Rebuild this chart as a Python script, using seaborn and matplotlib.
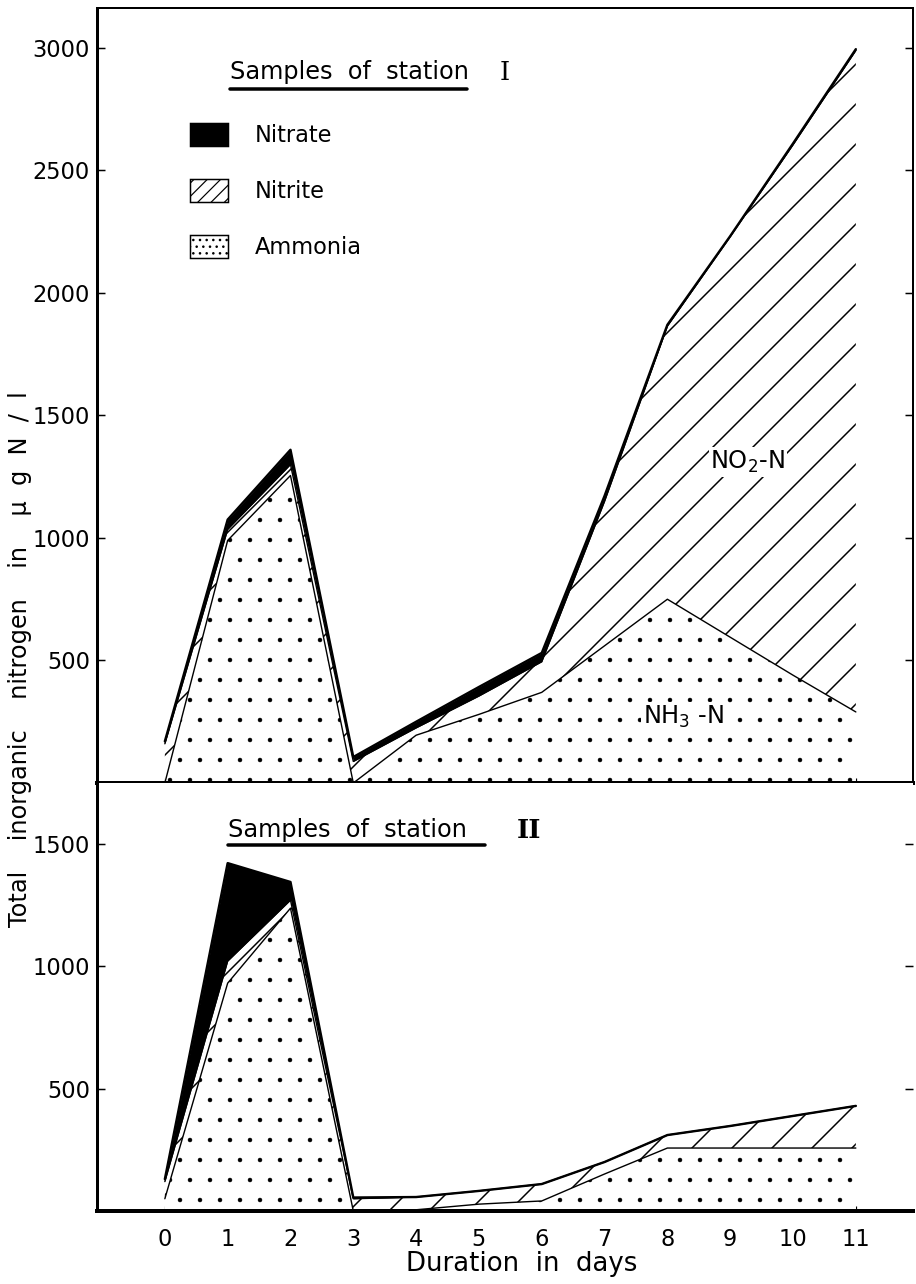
import matplotlib
matplotlib.use("Agg")
import matplotlib.pyplot as plt
from matplotlib.patches import Patch
import seaborn as sns

# values (cumulative, ug N/l)
days = [0, 1, 2, 3, 4, 5, 6, 7, 8, 9, 10, 11]

st1_ammonia = [0, 990, 1255, 0, 195, 280, 370, 560, 750, 595, 440, 290]
st1_nitrite = [160, 1035, 1300, 88, 225, 355, 495, 1150, 1865, 2230, 2605, 2990]
st1_total = [170, 1075, 1360, 106, 250, 392, 531, 1172, 1870, 2232, 2610, 2995]

st2_ammonia = [50, 930, 1236, 0, 5, 28, 41, 151, 257, 257, 257, 257]
st2_nitrite = [120, 1020, 1269, 50, 57, 82, 110, 200, 310, 347, 388, 429]
st2_total = [130, 1420, 1343, 55, 57, 82, 110, 200, 310, 347, 388, 429]

st1_yticks = [500, 1000, 1500, 2000, 2500, 3000]
st2_yticks = [500, 1000, 1500]

DPI = 120
PX = 72 / DPI  # points per pixel

sns.set_theme(style="ticks")
plt.rcParams["font.family"] = ["DejaVu Sans"]
plt.rcParams["text.color"] = "black"
plt.rcParams["hatch.color"] = "black"


def hatched_fill(ax, low, high, hatch, hatch_lw):
    plt.rcParams["hatch.linewidth"] = hatch_lw
    coll = ax.fill_between(days, low, high, facecolor="white", edgecolor="black",
                           hatch=hatch, linewidth=0)
    if hasattr(coll, "set_hatch_linewidth"):
        coll.set_hatch_linewidth(hatch_lw)
    return coll


def draw_station(ax, ammonia, nitrite, total):
    # stacked layers: ammonia dotted, nitrite hatched, nitrate solid black
    hatched_fill(ax, 0, ammonia, ".", 0.4 * PX)
    hatched_fill(ax, ammonia, nitrite, "/", 1.5 * PX)
    ax.fill_between(days, nitrite, total, facecolor="black", edgecolor="black",
                    linewidth=0)
    sns.lineplot(x=days, y=ammonia, ax=ax, color="black", linewidth=1.4 * PX)
    sns.lineplot(x=days, y=nitrite, ax=ax, color="black", linewidth=1.4 * PX)
    sns.lineplot(x=days, y=total, ax=ax, color="black", linewidth=2.4 * PX)


fig = plt.figure(figsize=(916 / DPI, 1284 / DPI), dpi=DPI)
ax1 = fig.add_axes([97 / 916, 1 - 783 / 1284, 816 / 916, 775 / 1284])
ax2 = fig.add_axes([97 / 916, 1 - 1211 / 1284, 816 / 916, 428 / 1284], sharex=ax1)

draw_station(ax1, st1_ammonia, st1_nitrite, st1_total)
draw_station(ax2, st2_ammonia, st2_nitrite, st2_total)

ax1.set_xlim(-1.08, 11.91)
ax1.set_ylim(0, 3163)
ax2.set_ylim(0, 1747)
ax1.set_xticks(days)
ax1.set_yticks(st1_yticks)
ax2.set_yticks(st2_yticks)
ax2.set_xticklabels([str(d) for d in days])

for ax in (ax1, ax2):
    ax.set_xlabel("")
    ax.set_ylabel("")
    ax.tick_params(axis="y", direction="in", left=True, right=True, labelright=False,
                   length=8 * PX, width=1.5 * PX, labelsize=22.5 * PX, pad=7 * PX,
                   colors="black")
    ax.tick_params(axis="x", direction="in", length=5 * PX, width=1.2 * PX,
                   labelsize=22.5 * PX, pad=17 * PX, colors="black")
    ax.spines["left"].set_linewidth(3 * PX)
    ax.spines["bottom"].set_linewidth(4 * PX)
    for s in ax.spines.values():
        s.set_color("black")
ax1.tick_params(axis="x", labelbottom=False)
ax1.spines["top"].set_linewidth(2 * PX)
ax1.spines["right"].set_linewidth(2 * PX)
ax2.spines["top"].set_visible(False)
ax2.spines["right"].set_visible(False)

# panel headings
ax1.text(0.163, 0.917, "Samples  of  station", transform=ax1.transAxes,
         fontsize=24 * PX, va="center")
ax1.plot([0.163, 0.453], [0.896, 0.896], transform=ax1.transAxes,
         color="black", linewidth=3.5 * PX, clip_on=False)
ax1.text(0.494, 0.917, "I", transform=ax1.transAxes, family="DejaVu Serif",
         fontsize=26 * PX, va="center")

ax2.text(0.161, 0.89, "Samples  of  station", transform=ax2.transAxes,
         fontsize=24 * PX, va="center")
ax2.plot([0.161, 0.475], [0.855, 0.855], transform=ax2.transAxes,
         color="black", linewidth=3.5 * PX, clip_on=False)
ax2.text(0.515, 0.89, "II", transform=ax2.transAxes, family="DejaVu Serif",
         fontsize=26 * PX, fontweight="bold", va="center")

# legend
plt.rcParams["hatch.linewidth"] = 1.2 * PX
handles = [
    Patch(facecolor="black", edgecolor="black", linewidth=1.5 * PX),
    Patch(facecolor="white", edgecolor="black", hatch="///", linewidth=1.5 * PX),
    Patch(facecolor="white", edgecolor="black", hatch="...", linewidth=1.5 * PX),
]
ax1.legend(handles, ["Nitrate", "Nitrite", "Ammonia"], loc="upper left",
           bbox_to_anchor=(0.114, 0.852), frameon=False, borderpad=0,
           borderaxespad=0, fontsize=22.5 * PX, handlelength=1.69,
           handleheight=1.2, handletextpad=1.2, labelspacing=1.42)

# layer labels
ax1.text(9.28, 1310, "NO$_2$-N", fontsize=24 * PX, ha="center", va="center",
         bbox=dict(facecolor="white", edgecolor="none", pad=1))
ax1.text(8.25, 269, "NH$_3$ -N", fontsize=24 * PX, ha="center", va="center",
         bbox=dict(facecolor="white", edgecolor="none", pad=1))

fig.text(0.022, 0.487, "Total    inorganic    nitrogen    in    μ  g  N  /  l",
         rotation=90, ha="center", va="center", fontsize=24 * PX)
fig.text(0.569, 0.0156, "Duration  in  days", ha="center", va="center",
         fontsize=26 * PX)

fig.savefig("out.png", dpi=DPI)
